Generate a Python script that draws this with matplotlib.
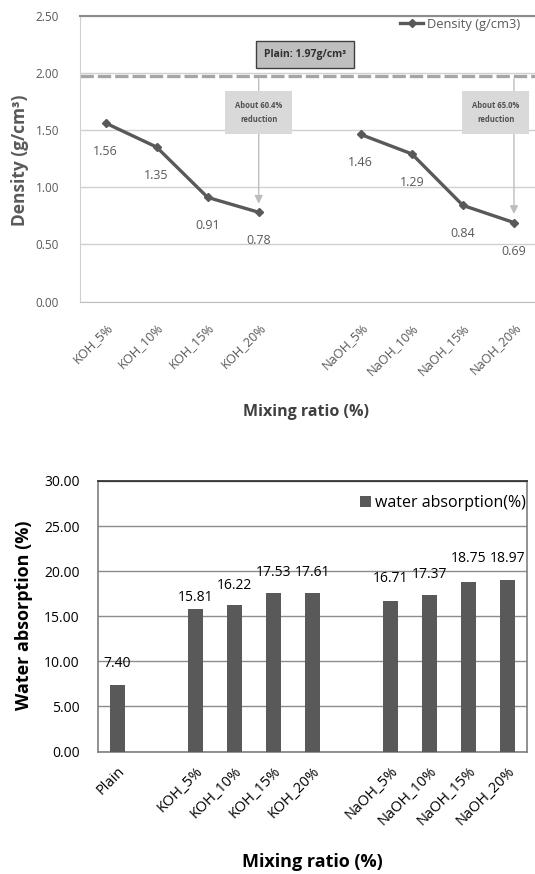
import matplotlib
matplotlib.use("Agg")
import matplotlib.pyplot as plt

# ---- data -------------------------------------------------------------
density_labels = ["KOH_5%", "KOH_10%", "KOH_15%", "KOH_20%",
                  "NaOH_5%", "NaOH_10%", "NaOH_15%", "NaOH_20%"]
koh_density = [1.56, 1.35, 0.91, 0.78]
naoh_density = [1.46, 1.29, 0.84, 0.69]
plain_density = 1.97

absorption_labels = ["Plain", "KOH_5%", "KOH_10%", "KOH_15%", "KOH_20%",
                     "NaOH_5%", "NaOH_10%", "NaOH_15%", "NaOH_20%"]
absorption = [7.40, 15.81, 16.22, 17.53, 17.61, 16.71, 17.37, 18.75, 18.97]

# ---- style ------------------------------------------------------------
DARK = "#595959"
GRID = "#d0d0d0"
plt.rcParams["font.family"] = ["Open Sans", "DejaVu Sans"]

W, H = 535, 874
fig = plt.figure(figsize=(W / 100, H / 100), dpi=100)

# ---- top: density line chart ------------------------------------------
# plot area runs a little past the right edge of the picture, as in the source
ax1 = fig.add_axes([80 / W, 1 - 301.5 / H, 459.5 / W, 286 / H])
koh_x = list(range(len(koh_density)))
naoh_x = [i + len(koh_density) + 1 for i in range(len(naoh_density))]
ax1.plot(koh_x, koh_density, color=DARK, lw=2.4, marker="D", ms=4.5,
         label="Density (g/cm3)")
ax1.plot(naoh_x, naoh_density, color=DARK, lw=2.4, marker="D", ms=4.5)
for x, v in list(zip(koh_x, koh_density)) + list(zip(naoh_x, naoh_density)):
    ax1.annotate(f"{v:.2f}", (x, v), xytext=(0, -20.5), textcoords="offset points",
                 ha="center", va="center", fontsize=9, color=DARK)

ax1.axhline(plain_density, color="#a6a6a6", lw=2.4, ls=(0, (4, 1.2)), zorder=1)
ax1.text(3.9, 2.16, "Plain: 1.97g/cm³", ha="center", va="center", fontsize=7.5,
         fontweight="bold", color="#303030",
         bbox=dict(boxstyle="square,pad=0.75", fc="#bfbfbf", ec="#404040", lw=1))

for x_end, v, tx, txt in [(koh_x[-1], koh_density[-1], 3.0, "About 60.4%\nreduction"),
                          (naoh_x[-1], naoh_density[-1], 7.64, "About 65.0%\nreduction")]:
    ax1.annotate("", xy=(x_end, v + 0.05), xytext=(x_end, plain_density),
                 arrowprops=dict(arrowstyle="-|>", color="#bdbdbd", lw=1,
                                 mutation_scale=12), zorder=1)
    ax1.text(tx, 1.65, txt, ha="center", va="center", fontsize=5.5,
             fontweight="bold", color="#505050", linespacing=1.7,
             bbox=dict(boxstyle="square,pad=1.3", fc="#d9d9d9", ec="none"))

ax1.set_xlim(-0.5, 8.5)
ax1.set_ylim(0, 2.5)
ax1.set_yticks([0, 0.5, 1.0, 1.5, 2.0, 2.5])
ax1.set_yticklabels([f"{t:.2f}" for t in ax1.get_yticks()])
ax1.set_xticks(koh_x + naoh_x)
ax1.set_xticklabels(density_labels, rotation=45, ha="right",
                    rotation_mode="anchor")
ax1.tick_params(length=0, labelsize=8.5, labelcolor=DARK)
ax1.tick_params(axis="y", pad=15)
ax1.tick_params(axis="x", pad=14, labelsize=9.2)
ax1.grid(axis="y", color=GRID, lw=1)
ax1.set_axisbelow(True)
ax1.spines["right"].set_visible(False)
ax1.spines["top"].set_color("#8c8c8c")
ax1.spines["top"].set_linewidth(1.5)
ax1.spines["left"].set_color(GRID)
ax1.spines["bottom"].set_color("#bfbfbf")
ax1.legend(loc="center left", bbox_to_anchor=(320 / 459.5, 1 - 9 / 286),
           frameon=False, fontsize=9.3, labelcolor=DARK, handlelength=1.8,
           handletextpad=0.3, borderaxespad=0, borderpad=0)
fig.text(20 / W, 1 - 160 / H, "Density (g/cm³)", rotation=90, ha="center",
         va="center", fontsize=12.5, fontweight="bold", color=DARK)
fig.text(306 / W, 1 - 412 / H, "Mixing ratio (%)", ha="center", va="center",
         fontsize=11.5, fontweight="bold", color="#404040")

# ---- bottom: water absorption bar chart -------------------------------
ax2 = fig.add_axes([97.5 / W, 1 - 751.5 / H, 429.5 / W, 270.5 / H])
bar_x = [0] + [i + 2 for i in range(4)] + [i + 7 for i in range(4)]
ax2.bar(bar_x, absorption, width=0.385, color=DARK, label="water absorption(%)",
        zorder=3)
label_offsets = [21, 11, 20, 21, 20, 22, 20, 24, 22]  # px above bar top
for x, v, off in zip(bar_x, absorption, label_offsets):
    ax2.annotate(f"{v:.2f}", (x, v), xytext=(0, off * 0.72),
                 textcoords="offset points", ha="center", va="center",
                 fontsize=10, color="black")
ax2.set_xlim(-0.5, 10.5)
ax2.set_ylim(0, 30)
ax2.set_yticks(range(0, 31, 5))
ax2.set_yticklabels([f"{t:.2f}" for t in range(0, 31, 5)])
ax2.set_xticks(bar_x)
ax2.set_xticklabels(absorption_labels, rotation=45, ha="right",
                    rotation_mode="anchor")
ax2.tick_params(length=0, labelsize=10)
ax2.tick_params(axis="y", pad=13)
ax2.tick_params(axis="x", pad=9, labelsize=10.5)
ax2.grid(axis="y", color="#8c8c8c", lw=1, zorder=0)
for s in ax2.spines.values():
    s.set_color("#7f7f7f")
    s.set_linewidth(1.2)
ax2.spines["top"].set_color("#262626")
ax2.legend(loc="center right", bbox_to_anchor=(1, 1 - 22 / 270.5),
           frameon=False, fontsize=11.5, handlelength=0.65, handleheight=0.65,
           handletextpad=0.25, borderaxespad=0, borderpad=0.1)
fig.text(24 / W, 1 - 615 / H, "Water absorption (%)", rotation=90, ha="center",
         va="center", fontsize=13, fontweight="bold")
fig.text(312 / W, 1 - 862 / H, "Mixing ratio (%)", ha="center", va="center",
         fontsize=13, fontweight="bold")

fig.savefig("out.png", dpi=100)
